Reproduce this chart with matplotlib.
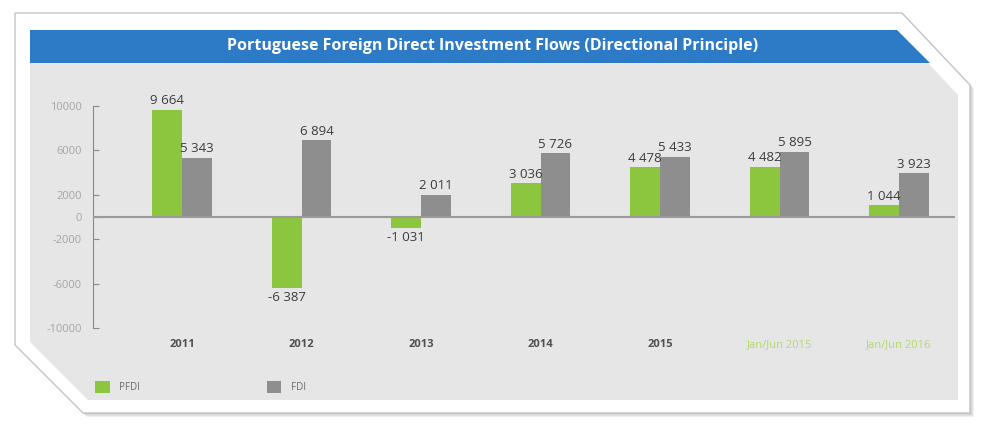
import numpy as np
import matplotlib.pyplot as plt
from matplotlib.patches import Polygon

plt.rcParams['font.family'] = ['Open Sans', 'DejaVu Sans']
plt.rcParams['axes.unicode_minus'] = False

# data (EUR million)
categories = ['2011', '2012', '2013', '2014', '2015', 'Jan/Jun 2015', 'Jan/Jun 2016']
pfdi = [9664, -6387, -1031, 3036, 4478, 4482, 1044]
fdi = [5343, 6894, 2011, 5726, 5433, 5895, 3923]
yticks = [10000, 6000, 2000, 0, -2000, -6000, -10000]
title = 'Portuguese Foreign Direct Investment Flows (Directional Principle)'

GREEN = '#8cc63e'
GREY = '#8e8e8e'
PANEL = '#e6e6e6'
BLUE = '#2d7bc6'


def fmt(v):
    return '{:,}'.format(v).replace(',', ' ')


fig = plt.figure(figsize=(9.85, 4.3), dpi=100)

# background card drawn in pixel coords
bg = fig.add_axes([0, 0, 1, 1])
bg.set_xlim(0, 985)
bg.set_ylim(430, 0)
bg.axis('off')

card = [(15, 13), (902, 13), (970, 85), (970, 413), (83, 413), (15, 345)]
for k in range(1, 5):
    sh = [(px + k, py + k) for px, py in card]
    bg.add_patch(Polygon(sh, closed=True, fc='#888888', ec='none', alpha=0.12))
bg.add_patch(Polygon(card, closed=True, fc='white', ec='#c4c4c4', lw=1))
panel = [(30, 30), (897, 30), (958, 95), (958, 400), (88, 400), (30, 342)]
bg.add_patch(Polygon(panel, closed=True, fc=PANEL, ec='none'))
banner = [(30, 30), (897, 30), (930, 63), (30, 63)]
bg.add_patch(Polygon(banner, closed=True, fc=BLUE, ec='none'))
bg.text(493, 46.5, title, color='white', fontsize=11.5, fontweight='bold',
        ha='center', va='center')

# chart axes
step = 119.5
x0 = 182
left_px, right_px = 93, 955
top_px, bot_px = 106, 328
ax = fig.add_axes([left_px / 985, 1 - bot_px / 430,
                   (right_px - left_px) / 985, (bot_px - top_px) / 430])
ax.set_facecolor('none')

x = np.arange(len(categories))
w = 0.25
b1 = ax.bar(x - w / 2, pfdi, w, color=GREEN, label='PFDI', zorder=2)
b2 = ax.bar(x + w / 2, fdi, w, color=GREY, label='FDI', zorder=2)
ax.axhline(0, color='#9a9a9a', lw=1.5, zorder=3)

ax.bar_label(b1, labels=[fmt(v) for v in pfdi], padding=2, fontsize=9.5, color='#3c3c3c')
ax.bar_label(b2, labels=[fmt(v) for v in fdi], padding=2, fontsize=9.5, color='#3c3c3c')

ax.set_xlim((left_px - x0) / step, (right_px - x0) / step)
ax.set_ylim(-10000, 10000)
ax.set_yticks(yticks)
ax.tick_params(axis='y', direction='in', length=4, color='#8a8a8a',
               labelcolor='#a5a5a5', labelsize=8, pad=8)
ax.set_xticks(x, categories)
ax.tick_params(axis='x', length=0, pad=8, labelsize=8, labelcolor='#505050')
for i, lbl in enumerate(ax.get_xticklabels()):
    if i >= 5:
        lbl.set_color('#b3d86e')
    else:
        lbl.set_fontweight('bold')

for s in ['top', 'right', 'bottom']:
    ax.spines[s].set_visible(False)
ax.spines['left'].set_color('#8a8a8a')

fig.legend(handles=[b1, b2], labels=['PFDI', 'FDI'], loc='center left',
           bbox_to_anchor=(95 / 985, 1 - 387 / 430), ncol=2, frameon=False,
           fontsize=7, handlelength=1.5, handleheight=1.5, handletextpad=1.0,
           columnspacing=13, borderpad=0, borderaxespad=0, labelcolor='#6a6a6a')

fig.savefig('out.png', dpi=100)
